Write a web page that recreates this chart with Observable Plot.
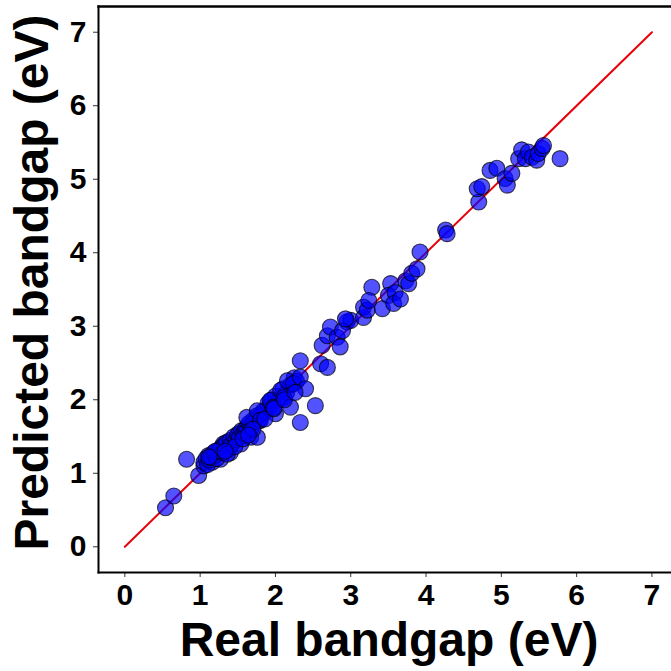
<!DOCTYPE html>
<html>
<head>
<meta charset="utf-8">
<script src="https://cdn.jsdelivr.net/npm/d3@7"></script>
<script src="https://cdn.jsdelivr.net/npm/@observablehq/plot@0.6"></script>
<style>
  html, body { margin: 0; padding: 0; background: white; }
  #chart { width: 671px; height: 671px; }
</style>
</head>
<body>
<div id="chart"></div>
<script>
// Real (measured) bandgap vs model-predicted bandgap, both in eV
const realGap = [
  0.54, 0.65, 0.82, 0.98, 1.05, 1.11, 1.16, 1.23, 1.27, 1.31, 1.40, 1.43, 1.51, 1.54,
  1.62, 1.67, 1.76, 1.78, 1.84, 1.93, 2.00,
  1.05, 1.08, 1.10, 1.12, 1.15, 1.18, 1.20, 1.22, 1.25, 1.28, 1.30, 1.32, 1.35, 1.38,
  1.40, 1.42, 1.45, 1.48, 1.50, 1.52, 1.55, 1.58, 1.60, 1.62, 1.65, 1.68, 1.70, 1.72,
  1.75, 1.80, 1.85, 1.90, 1.95, 2.00, 2.05, 2.10, 2.15, 2.20, 2.25, 2.28,
  1.62, 1.76, 1.80, 1.93, 1.98, 2.07, 2.11, 2.20, 2.16, 2.24, 2.33, 2.40, 2.53, 2.33,
  2.33, 2.60, 2.69, 2.62, 2.69, 2.73, 2.82, 2.86, 2.95, 3.00, 2.89, 3.17, 3.17,
  2.93, 3.22, 3.28, 3.24, 3.42, 3.53, 3.50, 3.59, 3.57, 3.66, 3.73, 3.77, 3.81, 3.88,
  3.92, 4.26, 4.28,
  4.70, 4.68, 4.74, 4.85, 4.94, 5.05, 5.08, 5.14, 5.23, 5.27, 5.32, 5.36, 5.41, 5.47,
  5.49, 5.54, 5.56, 5.78,
  1.20, 1.36, 1.46, 1.57, 1.70, 1.86, 1.98, 2.12, 2.26, 1.12, 1.33, 1.64
];
const predGap = [
  0.53, 0.69, 1.19, 0.97, 1.10, 1.24, 1.15, 1.31, 1.19, 1.40, 1.28, 1.44, 1.54, 1.40,
  1.63, 1.49, 1.49, 1.72, 1.85, 1.92, 1.81,
  1.15, 1.20, 1.12, 1.18, 1.22, 1.28, 1.25, 1.20, 1.30, 1.35, 1.28, 1.38, 1.42, 1.33,
  1.45, 1.40, 1.50, 1.46, 1.52, 1.48, 1.58, 1.55, 1.60, 1.57, 1.68, 1.62, 1.72, 1.70,
  1.78, 1.80, 1.83, 1.95, 2.00, 2.05, 2.00, 2.15, 2.10, 2.20, 2.30, 2.25,
  1.76, 1.85, 1.72, 1.99, 1.90, 2.13, 2.03, 1.90, 2.26, 2.22, 2.31, 2.15, 1.92, 1.69,
  2.53, 2.49, 2.44, 2.74, 2.87, 2.99, 2.85, 2.72, 3.06, 3.08, 2.94, 3.12, 3.26,
  3.10, 3.22, 3.53, 3.35, 3.24, 3.58, 3.42, 3.46, 3.31, 3.37, 3.62, 3.58, 3.72, 3.78,
  4.01, 4.31, 4.26,
  4.69, 4.87, 4.90, 5.12, 5.15, 5.01, 4.92, 5.08, 5.28, 5.40, 5.28, 5.37, 5.30, 5.26,
  5.35, 5.42, 5.46, 5.28,
  1.30, 1.26, 1.36, 1.47, 1.60, 1.74, 1.88, 2.00, 2.10, 1.22, 1.30, 1.52
];
// Ideal y = x reference line
const idealLine = [0, 7];
const tickValues = [0, 1, 2, 3, 4, 5, 6, 7];
const xTitle = "Real bandgap (eV)";
const yTitle = "Predicted bandgap (eV)";

const points = realGap.map((r, i) => ({real: r, pred: predGap[i]}));
const font = "'Liberation Sans', Arial, Helvetica, sans-serif";

const chart = Plot.plot({
  width: 671,
  height: 671,
  marginTop: 6,
  marginBottom: 99,
  marginLeft: 98,
  marginRight: 0,
  style: {fontFamily: font, background: "white", color: "black"},
  x: {domain: [-0.35, 7.26]},
  y: {domain: [-0.35, 7.35]},
  marks: [
    Plot.axisX({ticks: tickValues, tickSize: 5, tickPadding: 6, label: null,
      fontSize: 30, fontWeight: "bold", stroke: "#333", fill: "black"}),
    Plot.axisY({ticks: tickValues, tickSize: 5, tickPadding: 7, label: null,
      fontSize: 30, fontWeight: "bold", stroke: "#333", fill: "black"}),
    Plot.line(idealLine, {x: d => d, y: d => d, stroke: "#e8000b", strokeWidth: 2}),
    Plot.dot(points, {x: "real", y: "pred", r: 8, fill: "blue", fillOpacity: 0.68,
      stroke: "black", strokeOpacity: 0.7, strokeWidth: 1.1}),
    Plot.frame({anchor: "top", stroke: "black", strokeWidth: 2.5}),
    Plot.frame({anchor: "left", stroke: "black", strokeWidth: 2}),
    Plot.frame({anchor: "bottom", stroke: "black", strokeWidth: 2}),
    Plot.text([xTitle], {frameAnchor: "bottom", dx: 4, dy: 68, text: d => d, fontSize: 48,
      fontWeight: "bold", fill: "black", lineAnchor: "middle", textAnchor: "middle"}),
    Plot.text([yTitle], {frameAnchor: "left", dx: -66, dy: -7, text: d => d, rotate: -90,
      fontSize: 48, fontWeight: "bold", fill: "black", lineAnchor: "middle", textAnchor: "middle"})
  ]
});
document.getElementById("chart").appendChild(chart);
</script>
</body>
</html>
